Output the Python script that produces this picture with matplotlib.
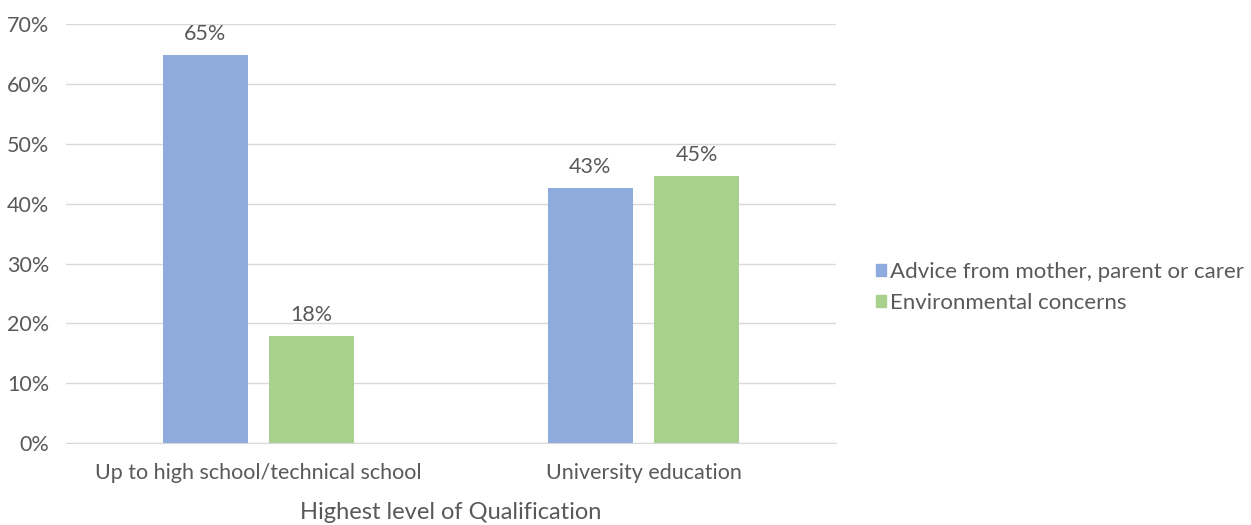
import matplotlib.pyplot as plt
import numpy as np
from matplotlib.patches import Patch

plt.rcParams["font.family"] = ["Lato", "DejaVu Sans"]

# data
categories = ["Up to high school/technical school", "University education"]
series_names = ["Advice from mother, parent or carer", "Environmental concerns"]
advice = [0.648, 0.426]
environment = [0.179, 0.447]

BLUE = "#8FAADC"
GREEN = "#A9D18E"
TEXT = "#595959"
GRID = "#D9D9D9"

fig = plt.figure(figsize=(12.51, 5.25), dpi=100)
ax = fig.add_axes([0.0528, 0.156, 0.6155, 0.798])

x = np.arange(len(categories))
width = 0.22
offset = 0.138

bars1 = ax.bar(x - offset, advice, width, color=BLUE, zorder=3)
bars2 = ax.bar(x + offset, environment, width, color=GREEN, zorder=3)

# value labels above each bar
for bars in (bars1, bars2):
    for b in bars:
        h = b.get_height()
        ax.text(b.get_x() + b.get_width() / 2, h + 0.018, f"{h * 100:.0f}%",
                ha="center", va="bottom", fontsize=15.5, color=TEXT)

ax.set_xlim(-0.5, 1.5)
ax.set_ylim(0, 0.70)
ticks = np.arange(0, 0.71, 0.1)
ax.set_yticks(ticks)
ax.set_yticklabels([f"{v * 100:.0f}%" for v in ticks])
ax.set_xticks(x)
ax.set_xticklabels(categories)
ax.tick_params(axis="both", length=0, labelsize=15.5, colors=TEXT)
ax.tick_params(axis="x", pad=14)
ax.tick_params(axis="y", pad=12)

ax.yaxis.grid(True, color=GRID, linewidth=1, zorder=0)
for s in ("top", "right", "left"):
    ax.spines[s].set_visible(False)
ax.spines["bottom"].set_color(GRID)

ax.set_xlabel("Highest level of Qualification", fontsize=17, color=TEXT, labelpad=14)

handles = [Patch(color=BLUE), Patch(color=GREEN)]
fig.legend(handles, series_names, loc="center left", bbox_to_anchor=(0.684, 0.452),
           frameon=False, fontsize=16, labelcolor=TEXT, handlelength=0.45,
           handleheight=0.45, handletextpad=0.2, labelspacing=0.48)

fig.savefig("out.png", dpi=100)
